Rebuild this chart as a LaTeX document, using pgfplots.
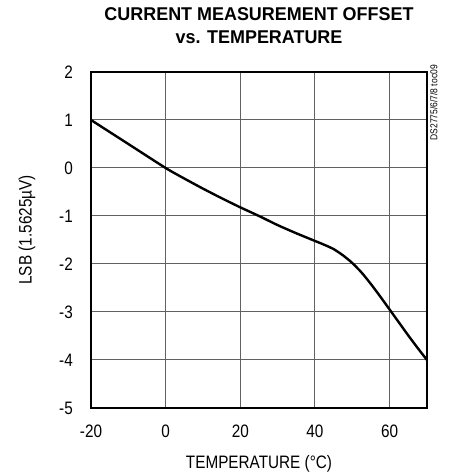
\documentclass[border=0pt]{standalone}
\usepackage{pgfplots}
\pgfplotsset{compat=1.18}
\usepackage{fontspec}
\setmainfont{Liberation Sans}[FakeStretch=0.85]
\newfontfamily\titlefont{Liberation Sans}[FakeStretch=0.97]

\begin{document}
\begin{tikzpicture}
\useasboundingbox (-91bp,-65bp) rectangle (360bp,408bp);
\begin{axis}[
  scale only axis,
  width=336bp, height=336bp,
  xmin=-20, xmax=70, ymin=-5, ymax=2,
  xtick={-20,0,20,40,60},
  ytick={-5,-4,-3,-2,-1,0,1,2},
  grid=major,
  major grid style={black!62, line width=1bp},
  major tick length=0pt,
  axis line style={line width=2.2bp},
  /pgf/number format/assume math mode=true,
  ticklabel style={font=\fontsize{18bp}{20bp}\selectfont, inner sep=0pt},
  xticklabel style={anchor=north, yshift=-17bp},
  yticklabel style={anchor=east, xshift=-18bp},
  title={CURRENT MEASUREMENT OFFSET\\vs. TEMPERATURE},
  title style={at={(0.5,1)}, anchor=south, inner sep=0pt, yshift=22bp,
    align=center, font=\titlefont\bfseries\fontsize{18.5bp}{23bp}\selectfont},
  xlabel={TEMPERATURE (°C)},
  xlabel style={at={(0.5,0)}, anchor=base, yshift=-60bp, inner sep=0pt,
    font=\fontsize{18bp}{20bp}\selectfont},
  ylabel={LSB (1.5625µV)},
  ylabel style={at={(-0.1905,0.53)}, anchor=center,
    inner sep=0pt, font=\fontsize{18bp}{20bp}\selectfont},
]
\addplot[black, line width=2.4bp, smooth, tension=0.4] coordinates {
  (-20,1.00) (-10,0.50) (0,0.00) (5,-0.22) (10,-0.43) (15,-0.63)
  (20,-0.82) (25,-1.00) (30,-1.19) (35,-1.36) (40,-1.52) (42.5,-1.60)
  (45,-1.69) (47.5,-1.82) (50,-1.98) (52.5,-2.18) (55,-2.42) (57.5,-2.68)
  (60,-2.95) (62.5,-3.22) (65,-3.49) (67.5,-3.75) (70,-4.00)
};
\end{axis}
\node[rotate=90, anchor=north east, inner sep=0pt,
  font=\fontsize{10bp}{11bp}\selectfont]
  at ([xshift=3bp, yshift=7bp]current axis.north east) {DS2775/6/7/8 toc09};
\end{tikzpicture}
\end{document}
